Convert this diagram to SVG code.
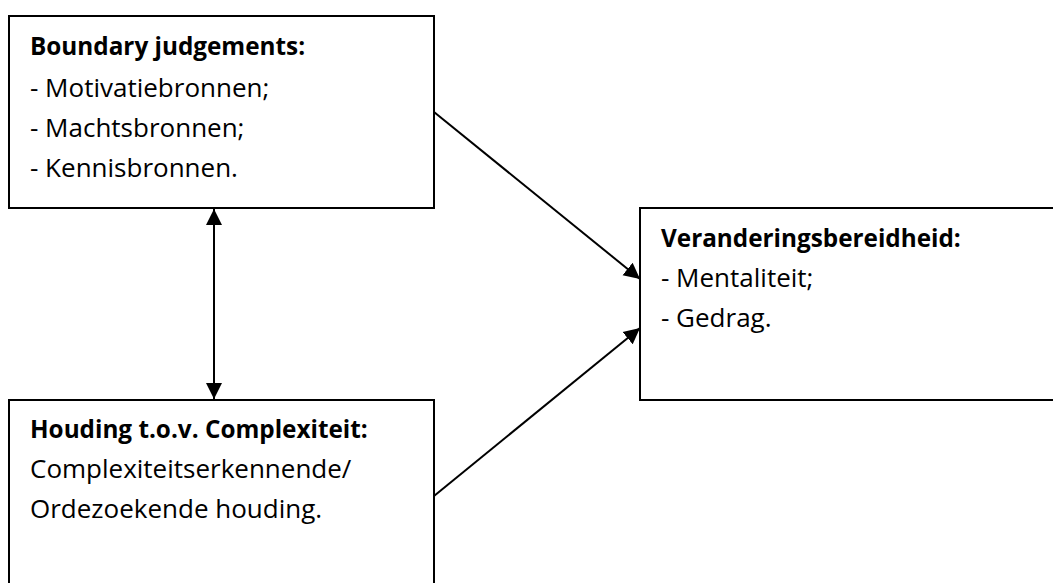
<svg xmlns="http://www.w3.org/2000/svg" width="1053" height="583" viewBox="0 0 1053 583">
  <style>
    .box { fill: #ffffff; stroke: #000000; stroke-width: 2; }
    .t { font-family: "Open Sans", "Liberation Sans", sans-serif; font-size: 26px; fill: #000000; }
    .b { font-weight: bold; font-size: 24.3px; }
    .link { stroke: #000000; stroke-width: 2; fill: none; }
  </style>
  <defs>
    <marker id="head" markerUnits="userSpaceOnUse" markerWidth="17" markerHeight="17" refX="16" refY="8.5" orient="auto-start-reverse" viewBox="0 0 17 17">
      <path d="M0,0.5 L16,8.5 L0,16.5 Z" fill="#000000"/>
    </marker>
  </defs>

  <rect width="1053" height="583" fill="#ffffff"/>

  <g id="boundary">
    <rect class="box" x="9" y="16" width="425" height="192"/>
    <text class="t b" x="30" y="55">Boundary judgements:</text>
    <text class="t" x="30" y="97">- Motivatiebronnen;</text>
    <text class="t" x="30" y="137">- Machtsbronnen;</text>
    <text class="t" x="30" y="177">- Kennisbronnen.</text>
  </g>

  <g id="houding">
    <rect class="box" x="9" y="400" width="425" height="200"/>
    <text class="t b" x="30" y="438">Houding t.o.v. Complexiteit:</text>
    <text class="t" x="30" y="478">Complexiteitserkennende/</text>
    <text class="t" x="30" y="518">Ordezoekende houding.</text>
  </g>

  <g id="bereidheid">
    <rect class="box" x="640" y="208" width="430" height="192"/>
    <text class="t b" x="661" y="247">Veranderingsbereidheid:</text>
    <text class="t" x="661" y="287">- Mentaliteit;</text>
    <text class="t" x="661" y="327">- Gedrag.</text>
  </g>

  <g id="connectors">
    <line class="link" x1="214" y1="209" x2="214" y2="399" marker-start="url(#head)" marker-end="url(#head)"/>
    <line class="link" x1="434" y1="112" x2="640" y2="279" marker-end="url(#head)"/>
    <line class="link" x1="434" y1="496" x2="640" y2="328" marker-end="url(#head)"/>
  </g>
</svg>
